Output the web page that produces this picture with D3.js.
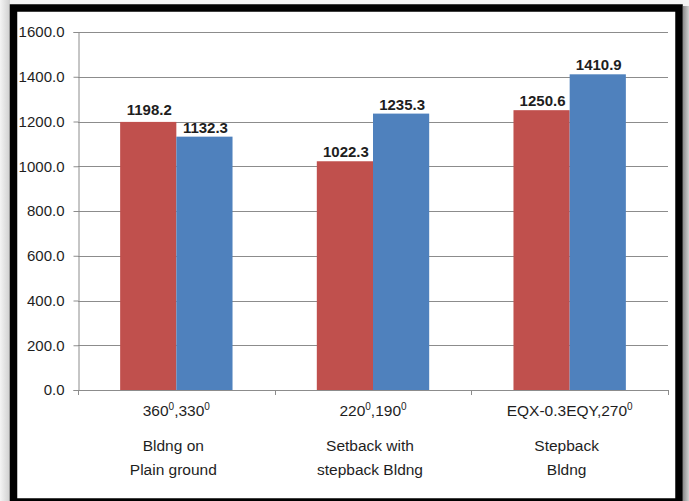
<!DOCTYPE html>
<html>
<head>
<meta charset="utf-8">
<script src="https://cdn.jsdelivr.net/npm/d3@7"></script>
<style>
  html, body { margin: 0; padding: 0; background: #ffffff; }
  svg { display: block; }
  text { font-family: "Liberation Sans", Arial, sans-serif; fill: #1e1e1e; }
</style>
</head>
<body>
<script>
// Category labels: first line is the load direction, the rest describe the building
const categories = ["c1", "c2", "c3"];
const directionLabels = [["360", "0", ",330", "0"], ["220", "0", ",190", "0"], ["EQX-0.3EQY,270", "0"]];
const buildingLabels = [["Bldng on", "Plain ground"], ["Setback with", "stepback Bldng"], ["Stepback", "Bldng"]];

// Two series per category
const seriesNames = ["A", "B"];
const seriesColors = ["#C0504D", "#4F81BD"];
const seriesA = [1198.2, 1022.3, 1250.6];
const seriesB = [1132.3, 1235.3, 1410.9];

// Value axis
const yTicks = [0, 200, 400, 600, 800, 1000, 1200, 1400, 1600];

const W = 689, H = 501;
const plot = { left: 78, right: 668, top: 32, bottom: 390 };

const svg = d3.select("body").append("svg").attr("width", W).attr("height", H);

// page shadow around the framed chart
const defs = svg.append("defs");
const lg = defs.append("linearGradient").attr("id", "leftShade").attr("x1", 0).attr("x2", 1);
lg.append("stop").attr("offset", 0).attr("stop-color", "#f4f4f4");
lg.append("stop").attr("offset", 1).attr("stop-color", "#cfcfcf");
const rg = defs.append("linearGradient").attr("id", "rightShade").attr("x1", 0).attr("x2", 1);
rg.append("stop").attr("offset", 0).attr("stop-color", "#8a8a8a");
rg.append("stop").attr("offset", 1).attr("stop-color", "#d0d0d0");

svg.append("rect").attr("width", W).attr("height", H).attr("fill", "#f3f3f3");
svg.append("rect").attr("x", 0).attr("y", 0).attr("width", 10).attr("height", H).attr("fill", "url(#leftShade)");
svg.append("rect").attr("x", 683).attr("y", 6).attr("width", 6).attr("height", H).attr("fill", "url(#rightShade)");

// chart frame
svg.append("rect")
  .attr("x", 13.5).attr("y", 8).attr("width", 665.5).attr("height", 494)
  .attr("fill", "#ffffff").attr("stroke", "#000000").attr("stroke-width", 7.5);

const y = d3.scaleLinear().domain([0, 1600]).range([plot.bottom, plot.top]);
const x0 = d3.scaleBand().domain(categories).range([plot.left, plot.right]).paddingInner(0).paddingOuter(0);
const x1 = d3.scaleBand().domain(seriesNames).range([0, x0.bandwidth()]).paddingInner(0).paddingOuter(0.75);

// gridlines
svg.append("g").selectAll("line").data(yTicks.filter(t => t > 0)).join("line")
  .attr("x1", plot.left).attr("x2", plot.right)
  .attr("y1", d => Math.round(y(d)) + 0.5).attr("y2", d => Math.round(y(d)) + 0.5)
  .attr("stroke", "#8c8c8c").attr("stroke-width", 1);

// y axis
const yAxis = svg.append("g").attr("transform", `translate(${plot.left + 0.5},0)`)
  .call(d3.axisLeft(y).tickValues(yTicks).tickFormat(d3.format(".1f")).tickSize(5).tickPadding(9));
yAxis.select(".domain").attr("stroke", "#8c8c8c");
yAxis.selectAll(".tick line").attr("stroke", "#8c8c8c");
yAxis.selectAll(".tick text").style("font-size", "15px").style("font-family", '"Liberation Sans", Arial, sans-serif').attr("fill", "#1e1e1e");

// bars
const rows = categories.map((c, i) => ({ c, i, vals: [seriesA[i], seriesB[i]] }));
const groups = svg.append("g").selectAll("g").data(rows).join("g")
  .attr("transform", d => `translate(${x0(d.c)},0)`);

groups.selectAll("rect").data(d => d.vals.map((v, j) => ({ v, j, i: d.i }))).join("rect")
  .attr("x", d => x1(seriesNames[d.j]))
  .attr("width", x1.bandwidth())
  .attr("y", d => y(d.v))
  .attr("height", d => y(0) - y(d.v))
  .attr("fill", d => seriesColors[d.j]);

// value labels above the bars (the first one sits a little higher)
const extraLift = { "0-0": 2.5 };
groups.selectAll("text.val").data(d => d.vals.map((v, j) => ({ v, j, i: d.i }))).join("text")
  .attr("class", "val")
  .attr("x", d => x1(seriesNames[d.j]) + x1.bandwidth() / 2 + 1)
  .attr("y", d => y(d.v) - 4 - (extraLift[`${d.i}-${d.j}`] || 0))
  .attr("text-anchor", "middle")
  .style("font-size", "15px").style("font-weight", "bold")
  .text(d => d.v.toFixed(1));

// x axis
const xAxisG = svg.append("g");
xAxisG.append("line")
  .attr("x1", plot.left).attr("x2", plot.right)
  .attr("y1", plot.bottom + 0.5).attr("y2", plot.bottom + 0.5)
  .attr("stroke", "#8c8c8c");
const boundaries = categories.map(c => x0(c)).concat([plot.right]);
xAxisG.selectAll("line.tk").data(boundaries).join("line").attr("class", "tk")
  .attr("x1", d => Math.round(d) + 0.5).attr("x2", d => Math.round(d) + 0.5)
  .attr("y1", plot.bottom).attr("y2", plot.bottom + 5)
  .attr("stroke", "#8c8c8c");

// category labels
categories.forEach((c, i) => {
  const cx = x0(c) + x0.bandwidth() / 2;
  const t1 = svg.append("text").attr("x", cx).attr("y", 415.5)
    .attr("text-anchor", "middle").style("font-size", "15.5px");
  directionLabels[i].forEach((p, k) => {
    const sup = k % 2 === 1;
    t1.append("tspan")
      .attr("dy", sup ? -5.5 : (k > 0 ? 5.5 : 0))
      .style("font-size", sup ? "10px" : "15.5px")
      .text(p);
  });
  buildingLabels[i].forEach((line, k) => {
    svg.append("text").attr("x", cx - 3).attr("y", 451 + k * 24)
      .attr("text-anchor", "middle").style("font-size", "15.5px").text(line);
  });
});
</script>
</body>
</html>
